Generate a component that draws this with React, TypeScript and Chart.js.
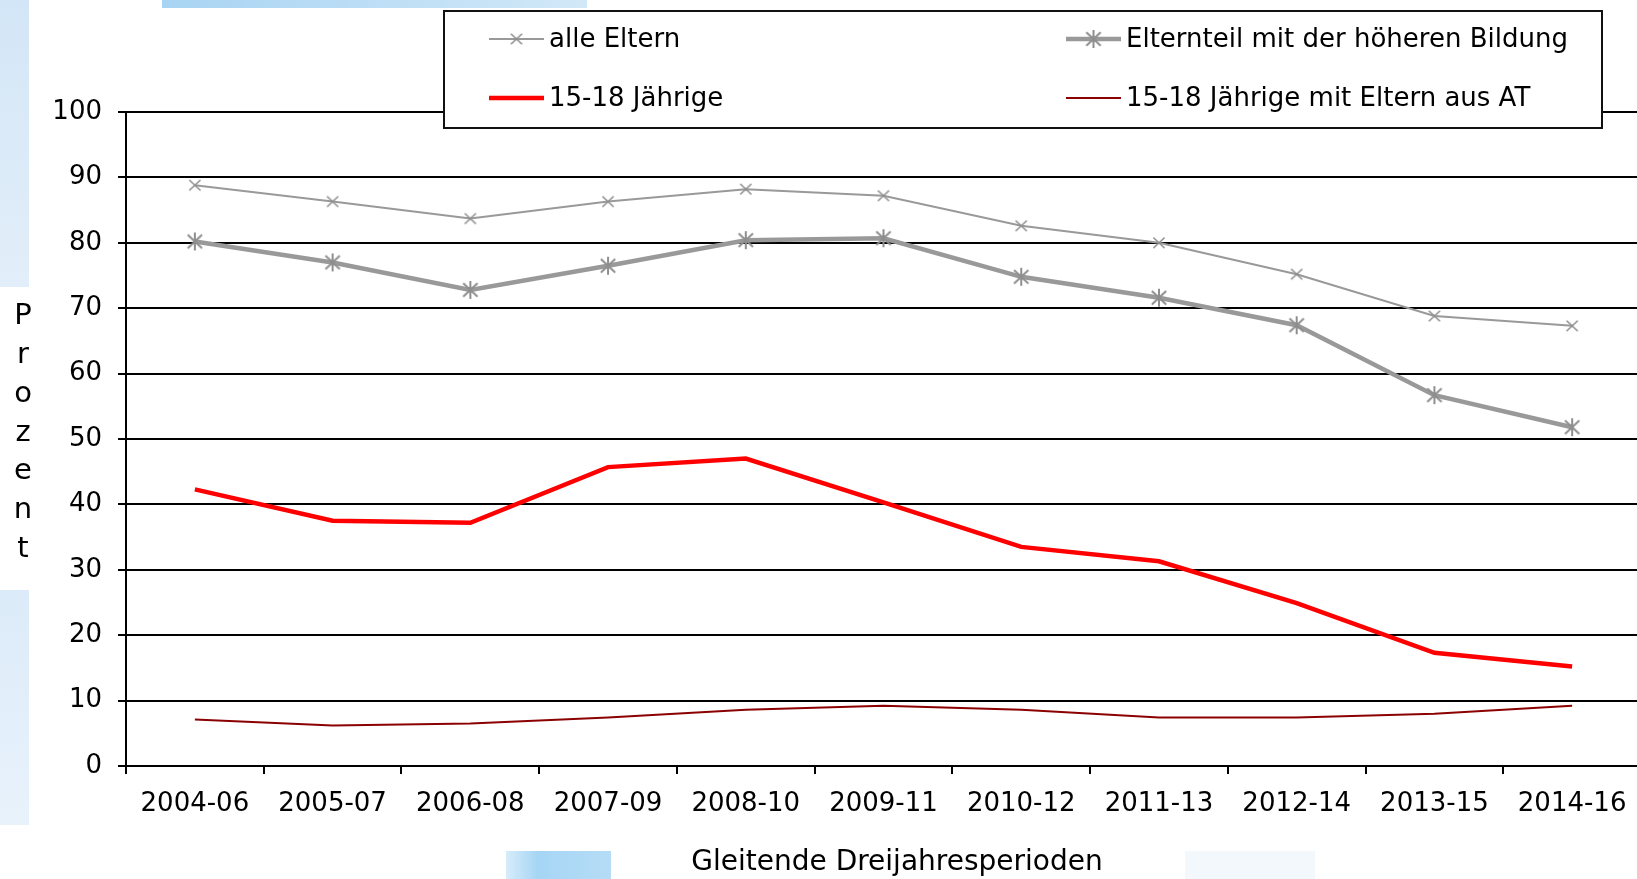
import React, { useEffect, useRef } from 'react';
import { Chart, registerables } from 'chart.js';

Chart.register(...registerables);

const categories = ['2004-06', '2005-07', '2006-08', '2007-09', '2008-10', '2009-11', '2010-12', '2011-13', '2012-14', '2013-15', '2014-16'];
const alleEltern = [88.8, 86.3, 83.7, 86.3, 88.2, 87.2, 82.6, 80.0, 75.2, 68.8, 67.3];
const hoehereBildung = [80.2, 77.0, 72.8, 76.5, 80.4, 80.7, 74.8, 71.6, 67.4, 56.7, 51.8];
const jaehrige = [42.3, 37.5, 37.2, 45.7, 47.0, 40.3, 33.5, 31.3, 24.9, 17.3, 15.2];
const jaehrigeAT = [7.1, 6.2, 6.5, 7.4, 8.6, 9.2, 8.6, 7.4, 7.4, 8.0, 9.2];
const seriesLabels = ['alle Eltern', 'Elternteil mit der höheren Bildung', '15-18 Jährige', '15-18 Jährige mit Eltern aus AT'];
const yMin = 0;
const yMax = 100;
const yStep = 10;
const xTitle = 'Gleitende Dreijahresperioden';
const yTitle = 'Prozent';

const FONT_FAMILY = '"DejaVu Sans", "Liberation Sans", Arial, sans-serif';
const FONT_SIZE = 26;
const GRAY = '#999999';
const GRAY_MARK = '#8e8e8e';

function makeMarker(kind: 'x' | 'asterisk', r: number, lw: number, color: string): HTMLCanvasElement {
  const size = Math.ceil(r * 2 + lw * 2 + 2);
  const c = document.createElement('canvas');
  c.width = size;
  c.height = size;
  const ctx = c.getContext('2d')!;
  const m = size / 2;
  ctx.strokeStyle = color;
  ctx.lineWidth = lw;
  ctx.lineCap = 'butt';
  ctx.beginPath();
  const d = r * 0.8;
  ctx.moveTo(m - d, m - r * 0.75);
  ctx.lineTo(m + d, m + r * 0.75);
  ctx.moveTo(m + d, m - r * 0.75);
  ctx.lineTo(m - d, m + r * 0.75);
  if (kind === 'asterisk') {
    ctx.moveTo(m, m - r);
    ctx.lineTo(m, m + r);
  }
  ctx.stroke();
  return c;
}

export default function App() {
  const ref = useRef<HTMLCanvasElement | null>(null);

  useEffect(() => {
    if (!ref.current) return;
    const xMark = makeMarker('x', 7, 1.6, GRAY_MARK);
    const starMark = makeMarker('asterisk', 9, 2, GRAY_MARK);
    const markers: (HTMLCanvasElement | null)[] = [xMark, starMark, null, null];

    const overlay = {
      id: 'overlay',
      afterDraw(chart: any) {
        const ctx: CanvasRenderingContext2D = chart.ctx;
        ctx.save();
        ctx.fillStyle = '#000';
        ctx.textAlign = 'center';
        ctx.textBaseline = 'middle';
        // stacked y title
        ctx.font = `29px ${FONT_FAMILY}`;
        const letters = yTitle.split('');
        const spacing = 38.8;
        const cy = 433;
        letters.forEach((ch, i) => {
          ctx.fillText(ch, 23, cy + (i - (letters.length - 1) / 2) * spacing);
        });
        // x title
        ctx.font = `28px ${FONT_FAMILY}`;
        ctx.fillText(xTitle, 897, 863);

        // legend box
        ctx.font = `${FONT_SIZE}px ${FONT_FAMILY}`;
        const bx = 444, by = 11, bw = 1158, bh = 117;
        ctx.fillStyle = '#fff';
        ctx.fillRect(bx, by, bw, bh);
        ctx.strokeStyle = '#111';
        ctx.lineWidth = 2;
        ctx.strokeRect(bx, by, bw, bh);
        const colX = [489, 1066];
        const rowY = [39, 98];
        chart.data.datasets.forEach((ds: any, i: number) => {
          const col = i % 2;
          const row = Math.floor(i / 2);
          const x0 = colX[col];
          const x1 = x0 + 55;
          const y = rowY[row];
          ctx.strokeStyle = ds.borderColor;
          ctx.lineWidth = ds.borderWidth;
          ctx.beginPath();
          ctx.moveTo(x0, y);
          ctx.lineTo(x1, y);
          ctx.stroke();
          const mk = markers[i];
          if (mk) ctx.drawImage(mk, (x0 + x1) / 2 - mk.width / 2, y - mk.height / 2);
          ctx.fillStyle = '#000';
          ctx.textAlign = 'left';
          ctx.fillText(ds.label, x1 + 5, y + 1);
        });
        ctx.restore();
      },
    };

    const chart = new Chart(ref.current, {
      type: 'line',
      data: {
        labels: categories,
        datasets: [
          {
            label: seriesLabels[0],
            data: alleEltern,
            borderColor: GRAY,
            borderWidth: 2,
            pointStyle: xMark as any,
            pointRadius: 7,
            tension: 0,
          },
          {
            label: seriesLabels[1],
            data: hoehereBildung,
            borderColor: GRAY,
            borderWidth: 4.5,
            pointStyle: starMark as any,
            pointRadius: 9,
            tension: 0,
          },
          {
            label: seriesLabels[2],
            data: jaehrige,
            borderColor: '#ff0000',
            borderWidth: 4.5,
            pointRadius: 0,
            tension: 0,
          },
          {
            label: seriesLabels[3],
            data: jaehrigeAT,
            borderColor: '#8b0000',
            borderWidth: 2,
            pointRadius: 0,
            tension: 0,
          },
        ],
      },
      options: {
        responsive: false,
        animation: false,
        devicePixelRatio: 1,
        layout: { autoPadding: false, padding: { top: 112, left: 0, right: 0, bottom: 0 } },
        plugins: {
          legend: { display: false },
          tooltip: { enabled: false },
          title: { display: false },
        },
        scales: {
          x: {
            type: 'category',
            offset: true,
            grid: {
              offset: true,
              drawOnChartArea: false,
              drawTicks: true,
              tickLength: 8,
              color: '#000',
              lineWidth: 2,
            },
            border: { display: true, color: '#000', width: 2 },
            ticks: {
              color: '#000',
              font: { family: FONT_FAMILY, size: FONT_SIZE },
              padding: 15,
              maxRotation: 0,
              autoSkip: false,
            },
            afterFit: (s: any) => {
              s.height = 113;
              s.paddingLeft = 0;
              s.paddingRight = 0;
            },
          },
          y: {
            min: yMin,
            max: yMax,
            grid: {
              color: '#000',
              lineWidth: 2,
              tickLength: 8,
              drawTicks: true,
            },
            border: { display: true, color: '#000', width: 2 },
            ticks: {
              stepSize: yStep,
              color: '#000',
              font: { family: FONT_FAMILY, size: FONT_SIZE },
              padding: 16,
            },
            afterFit: (s: any) => {
              s.width = 126;
              s.paddingTop = 0;
              s.paddingBottom = 0;
            },
          },
        },
      },
      plugins: [overlay],
    });
    return () => chart.destroy();
  }, []);

  return (
    <div style={{ position: 'absolute', left: 0, top: 0, width: 1637, height: 879, background: '#ffffff', overflow: 'hidden' }}>
      <div style={{ position: 'absolute', left: 0, top: 0, width: 29, height: 287, background: 'linear-gradient(to bottom, #d3e6f7, #e2eef9)' }} />
      <div style={{ position: 'absolute', left: 0, top: 590, width: 29, height: 235, background: 'linear-gradient(to bottom, #dcebf9, #e8f2fb)' }} />
      <div style={{ position: 'absolute', left: 162, top: 0, width: 425, height: 8, background: 'linear-gradient(to right, #a8d4f3, #d2e8f8)' }} />
      <div style={{ position: 'absolute', left: 506, top: 851, width: 105, height: 28, background: 'linear-gradient(to right, #d7ecfa, #a6d6f5 30%, #b5dcf6)' }} />
      <div style={{ position: 'absolute', left: 1185, top: 851, width: 130, height: 28, background: '#f3f8fd' }} />
      <canvas ref={ref} width={1641} height={879} style={{ position: 'absolute', left: 0, top: 0, width: 1641, height: 879 }} />
    </div>
  );
}
